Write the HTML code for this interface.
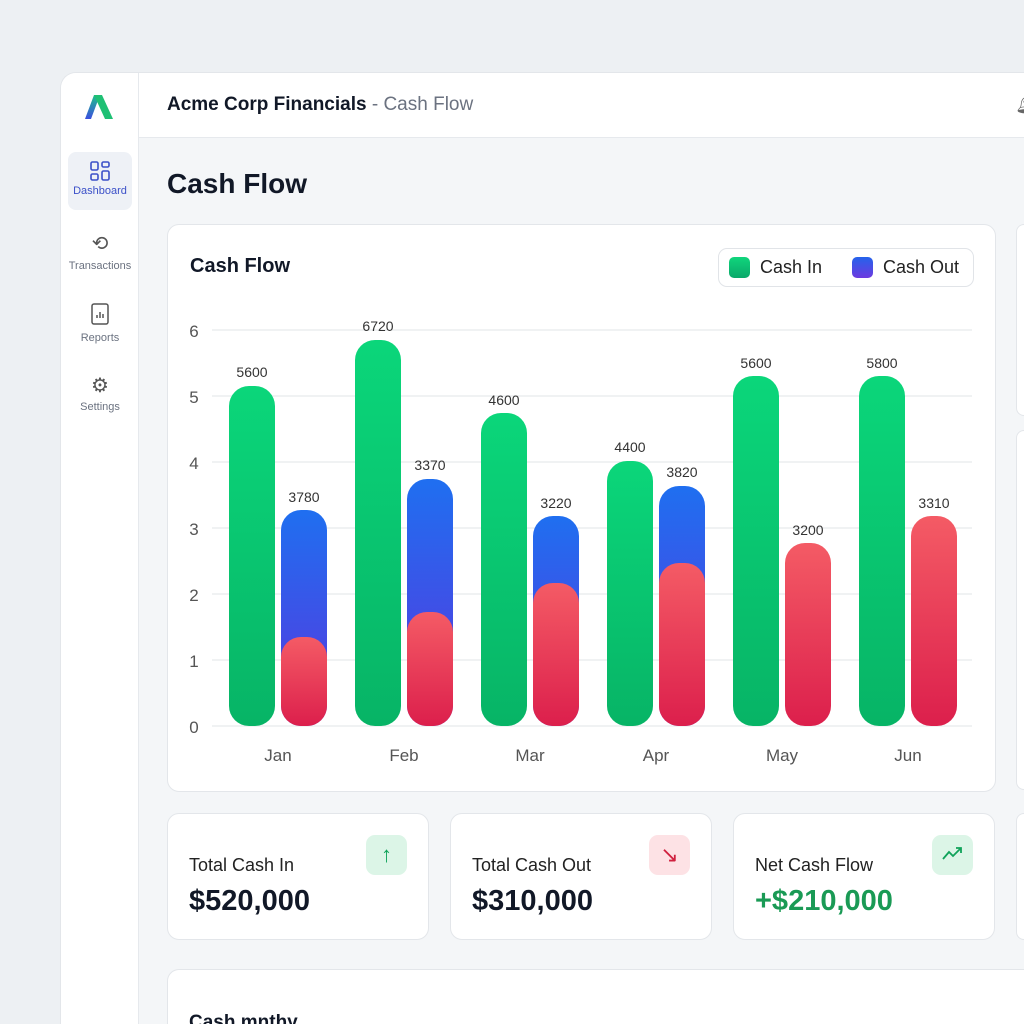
<!DOCTYPE html>
<html style="width:1024px;height:1024px;overflow:hidden"><head><meta charset="utf-8"><style>
*{margin:0;padding:0;box-sizing:border-box}
body{width:1024px;height:1024px;overflow:hidden;background:#edf0f3;font-family:"Liberation Sans",sans-serif;position:relative}
.frame{position:absolute;left:60px;top:72px;width:964px;height:952px;background:#f4f6f8;border-radius:16px 0 0 0;border:1px solid #e3e6ea;border-right:none;border-bottom:none;overflow:hidden}
.side{position:absolute;left:0;top:0;width:78px;height:100%;background:#fff;border-right:1px solid #e6e9ed}
.hdr{position:absolute;left:78px;top:0;right:0;height:65px;background:#fff;border-bottom:1px solid #e6e9ed}
.card{position:absolute;background:#fff;border:1px solid #e3e6ea;border-radius:12px;overflow:hidden}
.nav{position:absolute;left:7px;width:64px;text-align:center;font-size:11px;color:#6b7280}
.t{position:absolute;white-space:nowrap}
.ib{position:absolute;width:41px;height:40px;border-radius:9px;top:21px;right:21px}
</style></head><body>
<div class="frame">
 <div class="side">
  <svg style="position:absolute;left:22px;top:18px" width="32" height="30" viewBox="0 0 32 30">
   <defs><linearGradient id="lg" x1="0" y1="1" x2="0" y2="0"><stop offset="0" stop-color="#3b4fe0"/><stop offset="1" stop-color="#1fc08a"/></linearGradient></defs>
   <polygon points="2,28 11,4 17,4 8,28" fill="url(#lg)"/><polygon points="11,4 19,4 30,28 22,28" fill="#1fc074"/>
  </svg>
  <div class="nav" style="top:79px;height:58px;background:#eef1f6;border-radius:8px;color:#3b50c8">
   <svg style="margin-top:8px" width="22" height="22" viewBox="0 0 22 22" fill="none" stroke="#3b50c8" stroke-width="1.6"><rect x="2" y="2" width="7" height="8" rx="1.5"/><rect x="13" y="2" width="7" height="5" rx="1.5"/><rect x="2" y="14" width="7" height="6" rx="1.5"/><rect x="13" y="11" width="7" height="9" rx="1.5"/></svg>
   <div>Dashboard</div></div>
  <div class="nav" style="top:158px"><div style="font-size:20px;color:#555">⟲</div><div style="margin-top:4px">Transactions</div></div>
  <div class="nav" style="top:230px"><svg width="20" height="22" viewBox="0 0 20 22" fill="none" stroke="#555" stroke-width="1.5"><rect x="2" y="1" width="16" height="20" rx="2"/><path d="M7 15v-3M10 15v-6M13 15v-4"/></svg><div style="margin-top:4px">Reports</div></div>
  <div class="nav" style="top:302px"><div style="font-size:20px;color:#555;line-height:22px">⚙</div><div style="margin-top:4px">Settings</div></div>
 </div>
 <div class="hdr">
  <div class="t" style="left:28px;top:21px;font-size:19px;font-weight:bold;color:#111827">Acme Corp Financials <span style="font-weight:normal;color:#6b7280">- Cash Flow</span></div>
  <div class="t" style="left:876px;top:18px;font-size:20px;color:#666">🔔︎</div>
 </div>
 <div class="t" style="left:106px;top:95px;font-size:28px;font-weight:bold;color:#111827">Cash Flow</div>
</div>
<div class="card" style="left:167px;top:224px;width:829px;height:568px">
 <div class="t" style="left:22px;top:30px;font-size:20px;font-weight:bold;color:#111827">Cash Flow</div>
 <div class="t" style="left:550px;top:23px;width:256px;height:39px;border:1px solid #e1e4e8;border-radius:9px;font-size:18px;color:#222">
  <span style="position:absolute;left:10px;top:8px;width:21px;height:21px;border-radius:5px;background:linear-gradient(#10d57c,#0aa86a)"></span>
  <span style="position:absolute;left:41px;top:8px">Cash In</span>
  <span style="position:absolute;left:133px;top:8px;width:21px;height:21px;border-radius:5px;background:linear-gradient(#2563eb,#6d3ae0)"></span>
  <span style="position:absolute;left:164px;top:8px">Cash Out</span>
 </div>
</div>
<svg style="position:absolute;left:0;top:0" width="1024" height="1024" font-family="Liberation Sans, sans-serif">
 <defs>
  <linearGradient id="g" x1="0" y1="0" x2="0" y2="1"><stop offset="0" stop-color="#0bd67a"/><stop offset="1" stop-color="#07b466"/></linearGradient>
  <linearGradient id="b" x1="0" y1="0" x2="0" y2="1"><stop offset="0" stop-color="#1f6ff0"/><stop offset="1" stop-color="#5a35de"/></linearGradient>
  <linearGradient id="r" x1="0" y1="0" x2="0" y2="1"><stop offset="0" stop-color="#f45b65"/><stop offset="1" stop-color="#dc1f4c"/></linearGradient>
 </defs>
 <g stroke="#e7e9ec" stroke-width="1.2">
  <line x1="212" x2="972" y1="330" y2="330"/><line x1="212" x2="972" y1="396" y2="396"/><line x1="212" x2="972" y1="462" y2="462"/><line x1="212" x2="972" y1="528" y2="528"/><line x1="212" x2="972" y1="594" y2="594"/><line x1="212" x2="972" y1="660" y2="660"/><line x1="212" x2="972" y1="726" y2="726"/>
 </g>
 <g font-size="17" fill="#555" text-anchor="middle">
  <text x="194" y="337">6</text><text x="194" y="403">5</text><text x="194" y="469">4</text><text x="194" y="535">3</text><text x="194" y="601">2</text><text x="194" y="667">1</text><text x="194" y="733">0</text>
  <text x="278" y="761">Jan</text><text x="404" y="761">Feb</text><text x="530" y="761">Mar</text><text x="656" y="761">Apr</text><text x="782" y="761">May</text><text x="908" y="761">Jun</text>
 </g>
 <g>
  <rect x="229" y="386" width="46" height="340" rx="20" fill="url(#g)"/>
  <rect x="281" y="510" width="46" height="216" rx="20" fill="url(#b)"/>
  <rect x="281" y="637" width="46" height="89" rx="20" fill="url(#r)"/>
  <rect x="355" y="340" width="46" height="386" rx="20" fill="url(#g)"/>
  <rect x="407" y="479" width="46" height="247" rx="20" fill="url(#b)"/>
  <rect x="407" y="612" width="46" height="114" rx="20" fill="url(#r)"/>
  <rect x="481" y="413" width="46" height="313" rx="20" fill="url(#g)"/>
  <rect x="533" y="516" width="46" height="210" rx="20" fill="url(#b)"/>
  <rect x="533" y="583" width="46" height="143" rx="20" fill="url(#r)"/>
  <rect x="607" y="461" width="46" height="265" rx="20" fill="url(#g)"/>
  <rect x="659" y="486" width="46" height="240" rx="20" fill="url(#b)"/>
  <rect x="659" y="563" width="46" height="163" rx="20" fill="url(#r)"/>
  <rect x="733" y="376" width="46" height="350" rx="20" fill="url(#g)"/>
  <rect x="785" y="543" width="46" height="183" rx="20" fill="url(#r)"/>
  <rect x="859" y="376" width="46" height="350" rx="20" fill="url(#g)"/>
  <rect x="911" y="516" width="46" height="210" rx="20" fill="url(#r)"/>
 </g>
 <g font-size="14" fill="#333" text-anchor="middle">
  <text x="252" y="377">5600</text><text x="304" y="502">3780</text>
  <text x="378" y="331">6720</text><text x="430" y="470">3370</text>
  <text x="504" y="405">4600</text><text x="556" y="508">3220</text>
  <text x="630" y="452">4400</text><text x="682" y="477">3820</text>
  <text x="756" y="368">5600</text><text x="808" y="535">3200</text>
  <text x="882" y="368">5800</text><text x="934" y="508">3310</text>
 </g>
</svg>
<div class="card" style="left:1016px;top:224px;width:8px;height:192px;border-right:none;border-radius:12px 0 0 12px"></div>
<div class="card" style="left:1016px;top:430px;width:8px;height:360px;border-right:none;border-radius:12px 0 0 12px"></div>
<div class="card" style="left:1016px;top:813px;width:8px;height:127px;border-right:none;border-radius:12px 0 0 12px"></div>
<div class="card" style="left:167px;top:813px;width:262px;height:127px">
 <div class="t" style="left:21px;top:41px;font-size:18px;color:#222">Total Cash In</div>
 <div class="t" style="left:21px;top:71px;font-size:29px;font-weight:bold;color:#111827">$520,000</div>
 <div class="ib" style="background:#dcf5e7;color:#10a35a;font-size:22px;text-align:center;line-height:40px">↑</div>
</div>
<div class="card" style="left:450px;top:813px;width:262px;height:127px">
 <div class="t" style="left:21px;top:41px;font-size:18px;color:#222">Total Cash Out</div>
 <div class="t" style="left:21px;top:71px;font-size:29px;font-weight:bold;color:#111827">$310,000</div>
 <div class="ib" style="background:#fde2e5;color:#d0213f;font-size:22px;text-align:center;line-height:40px">↘</div>
</div>
<div class="card" style="left:733px;top:813px;width:262px;height:127px">
 <div class="t" style="left:21px;top:41px;font-size:18px;color:#222">Net Cash Flow</div>
 <div class="t" style="left:21px;top:71px;font-size:29px;font-weight:bold;color:#1a9a55">+$210,000</div>
 <div class="ib" style="background:#dcf5e7"><svg width="41" height="40" viewBox="0 0 41 40" fill="none" stroke="#10a35a" stroke-width="1.8"><path d="M11 24l6-7 4 4 8-8M24 13h5v5"/></svg></div>
</div>
<div class="card" style="left:167px;top:969px;width:857px;height:55px;border-right:none;border-bottom:none;border-radius:12px 0 0 0">
 <div class="t" style="left:21px;top:42px;font-size:19px;font-weight:bold;color:#111827">Cash mnthy</div>
</div>
</body></html>
